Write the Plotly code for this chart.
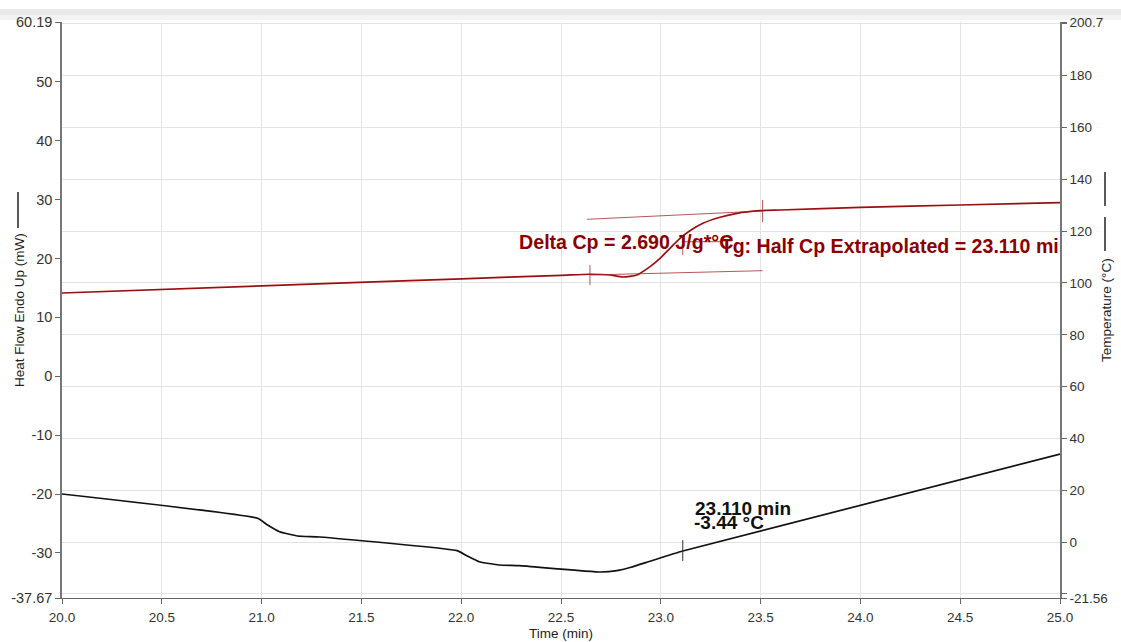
import plotly.graph_objects as go

# ---------------- data ----------------
# Heat flow (left axis, mW) - dark red curve
hf_time = [20.0, 21.0, 22.0, 22.5, 22.645, 22.745, 22.81, 22.88, 22.946, 22.996,
           23.046, 23.096, 23.146, 23.211, 23.297, 23.382, 23.497, 23.597, 24.0, 24.5, 25.0]
hf_val = [14.15, 15.35, 16.55, 17.15, 17.33, 17.21, 16.87, 17.21, 18.62, 20.04,
          21.74, 23.44, 24.73, 25.99, 27.01, 27.69, 28.13, 28.25, 28.71, 29.1, 29.49]

# Temperature (right axis, °C) - black curve
t_time = [20.0, 20.98, 21.03, 21.09, 21.18, 21.29, 21.98, 22.03, 22.09, 22.19,
          22.29, 22.70, 22.78, 22.85, 22.95, 23.11, 25.0]
t_val = [18.57, 9.19, 6.61, 4.03, 2.37, 1.98, -3.30, -5.35, -7.55, -8.82,
         -9.09, -11.52, -11.0, -9.71, -7.28, -3.42, 34.0]

# Glass transition analysis (tangent lines and markers)
upper_tan_x = [22.63, 23.51]
upper_tan_y = [26.67, 28.08]
lower_tan_x = [22.645, 23.51]
lower_tan_y = [17.21, 17.94]
onset_x = [22.645, 22.645]
onset_y = [15.5, 18.9]
end_x = [23.51, 23.51]
end_y = [26.2, 29.95]
mid_x = [23.11, 23.11]
mid_y = [20.6, 22.8]
half_x = [23.106, 23.30]
half_y = [22.86, 22.86]
tg_temp_x = [23.11, 23.11]
tg_temp_y = [0.8, -7.3]

# axis ticks
x_ticks = [20.0, 20.5, 21.0, 21.5, 22.0, 22.5, 23.0, 23.5, 24.0, 24.5, 25.0]
left_range = [-37.67, 60.19]
left_ticks = [-37.67, -30, -20, -10, 0, 10, 20, 30, 40, 50, 60.19]
left_text = ["-37.67", "-30", "-20", "-10", "0", "10", "20", "30", "40", "50", "60.19"]
right_range = [-21.56, 200.7]
right_ticks = [-21.56, -20, 0, 20, 40, 60, 80, 100, 120, 140, 160, 180, 200, 200.7]
right_text = ["-21.56", "", "0", "20", "40", "60", "80", "100", "120", "140", "160", "180", "", "200.7"]

RED = "#8B0000"
TAN = "rgba(160,30,30,0.75)"
FONT = "Liberation Sans, Arial, sans-serif"

fig = go.Figure()

fig.add_trace(go.Scatter(x=hf_time, y=hf_val, mode="lines",
                         line=dict(color="#9A1010", width=1.7, shape="spline", smoothing=0.6),
                         yaxis="y", hoverinfo="skip"))
fig.add_trace(go.Scatter(x=t_time, y=t_val, mode="lines",
                         line=dict(color="#111111", width=1.7, shape="spline", smoothing=0.4),
                         yaxis="y2", hoverinfo="skip"))

for xs, ys in [(upper_tan_x, upper_tan_y), (lower_tan_x, lower_tan_y), (half_x, half_y)]:
    fig.add_trace(go.Scatter(x=xs, y=ys, mode="lines", line=dict(color=TAN, width=1),
                             yaxis="y", hoverinfo="skip"))
for xs, ys in [(onset_x, onset_y), (end_x, end_y), (mid_x, mid_y)]:
    fig.add_trace(go.Scatter(x=xs, y=ys, mode="lines", line=dict(color=TAN, width=1),
                             yaxis="y", hoverinfo="skip"))
fig.add_trace(go.Scatter(x=tg_temp_x, y=tg_temp_y, mode="lines",
                         line=dict(color="#333333", width=1), yaxis="y2", hoverinfo="skip"))

# red labels (clipped to plot area like the reference)
fig.add_trace(go.Scatter(x=[22.29, 23.30], y=[22.45, 21.85], mode="text",
                         text=["Delta Cp = 2.690 J/g*°C", "Tg: Half Cp Extrapolated = 23.110 min"],
                         textposition="middle right",
                         textfont=dict(family=FONT, size=19.6, color=RED, weight="bold"),
                         cliponaxis=True, yaxis="y", hoverinfo="skip"))

fig.add_annotation(x=23.16, y=13.1, xref="x", yref="y2", text="<b>23.110 min</b>",
                   showarrow=False, xanchor="left", yanchor="middle",
                   font=dict(family=FONT, size=19, color="#111111"))
fig.add_annotation(x=23.155, y=7.4, xref="x", yref="y2", text="<b>-3.44 °C</b>",
                   showarrow=False, xanchor="left", yanchor="middle",
                   font=dict(family=FONT, size=19, color="#111111"))

# axis titles
fig.add_annotation(x=-0.0431, y=0.5, xref="paper", yref="paper", text="Heat Flow Endo Up (mW)",
                   textangle=-90, showarrow=False, xanchor="center", yanchor="middle",
                   font=dict(family=FONT, size=13.5, color="#222"))
fig.add_annotation(x=1.0461, y=0.5, xref="paper", yref="paper", text="Temperature (°C)",
                   textangle=-90, showarrow=False, xanchor="center", yanchor="middle",
                   font=dict(family=FONT, size=13.5, color="#222"))
fig.add_annotation(x=0.5, y=-35 / 576, xref="paper", yref="paper", text="Time (min)",
                   showarrow=False, xanchor="center", yanchor="middle",
                   font=dict(family=FONT, size=13.5, color="#222"))

shapes = [
    # legend glyph lines next to axis titles
    dict(type="line", xref="paper", yref="paper", x0=-0.0441, x1=-0.0441,
         y0=(598 - 192) / 576, y1=(598 - 228) / 576, line=dict(color="#222", width=1.5)),
    dict(type="line", xref="paper", yref="paper", x0=1.0451, x1=1.0451,
         y0=(598 - 172) / 576, y1=(598 - 206) / 576, line=dict(color="#222", width=1.5)),
    dict(type="line", xref="paper", yref="paper", x0=1.0451, x1=1.0451,
         y0=(598 - 217) / 576, y1=(598 - 251) / 576, line=dict(color="#222", width=1.5)),
    # grey header band
    dict(type="rect", xref="paper", yref="paper", x0=-0.07, x1=1.07,
         y0=(598 - 15) / 576, y1=(598 - 9) / 576, fillcolor="#e9e9e9", line=dict(width=0), layer="below"),
    dict(type="rect", xref="paper", yref="paper", x0=-0.07, x1=1.07,
         y0=(598 - 20) / 576, y1=(598 - 15) / 576, fillcolor="#f3f3f3", line=dict(width=0), layer="below"),
]

fig.update_layout(
    width=1121, height=642,
    margin=dict(l=62, r=61, t=22, b=44),
    paper_bgcolor="white", plot_bgcolor="white",
    showlegend=False,
    shapes=shapes,
    font=dict(family=FONT, size=13, color="#333"),
    xaxis=dict(range=[20.0, 25.0], tickvals=x_ticks, tickformat=".1f",
               showgrid=True, gridcolor="#e3e3e3", gridwidth=1,
               showline=True, linecolor="#666", linewidth=1,
               ticks="outside", ticklen=5, tickcolor="#666", ticklabelstandoff=2,
               tickfont=dict(size=13.5, color="#333"),
               automargin=False, zeroline=False),
    yaxis=dict(range=left_range, tickvals=left_ticks, ticktext=left_text,
               showgrid=False, zeroline=False, automargin=False,
               showline=True, linecolor="#777", linewidth=1.5,
               ticks="outside", ticklen=5, tickcolor="#666",
               tickfont=dict(size=14.5, color="#333")),
    yaxis2=dict(range=right_range, tickvals=right_ticks, ticktext=right_text,
                overlaying="y", side="right", automargin=False,
                showgrid=True, gridcolor="#e3e3e3", gridwidth=1, zeroline=False,
                showline=True, linecolor="#777", linewidth=1.5,
                ticks="outside", ticklen=5, tickcolor="#666",
                tickfont=dict(size=13.5, color="#333")),
)

fig.write_html("out.html")
